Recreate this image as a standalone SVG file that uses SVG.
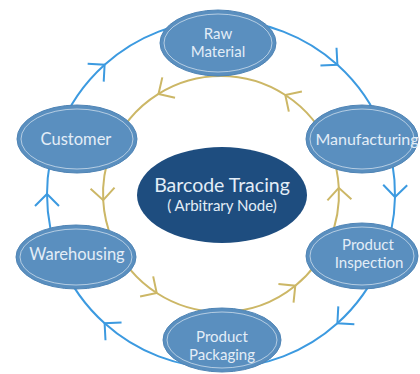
<svg xmlns="http://www.w3.org/2000/svg" width="420" height="374" viewBox="0 0 420 374">
<style>
.node{fill:#5a8fbf;stroke:#4f84b5;stroke-width:1}
.ring{fill:none;stroke:#ffffff;stroke-opacity:0.55;stroke-width:1}
.lbl{font-family:Lato,"Noto Sans","DejaVu Sans",sans-serif;font-size:16.5px;fill:#e3edf7;text-anchor:middle}
.two{font-size:15px}
.blue{fill:none;stroke:#3c9ae0;stroke-width:2;marker-mid:url(#ab)}
.gold{fill:none;stroke:#ccb766;stroke-width:2;marker-mid:url(#ag)}
</style>
<defs>
<marker id="ab" markerUnits="userSpaceOnUse" markerWidth="30" markerHeight="30" viewBox="-15 -15 30 30" refX="0" refY="0" orient="auto" overflow="visible">
<path d="M-12,-12 L0,0 L-12,12" fill="none" stroke="#3c9ae0" stroke-width="2"/>
</marker>
<marker id="ag" markerUnits="userSpaceOnUse" markerWidth="30" markerHeight="30" viewBox="-15 -15 30 30" refX="0" refY="0" orient="auto" overflow="visible">
<path d="M-12,-12 L0,0 L-12,12" fill="none" stroke="#ccb766" stroke-width="2"/>
</marker>
</defs>
<rect width="420" height="374" fill="#ffffff"/>
<g id="connectors">
<path class="blue" d="M221,20 A174,174 0 0 1 337.4,64.7 A174,174 0 0 1 383.4,131.6"/>
<path class="blue" d="M383.4,131.6 A174,174 0 0 1 395,197 A174,174 0 0 1 381.2,262"/>
<path class="blue" d="M381.2,262 A174,174 0 0 1 337.4,323.3 A174,174 0 0 1 221,368"/>
<path class="blue" d="M221,368 A174,174 0 0 1 104.6,323.3 A174,174 0 0 1 60.8,262"/>
<path class="blue" d="M60.8,262 A174,174 0 0 1 47,194 A174,174 0 0 1 58.6,131.6"/>
<path class="blue" d="M58.6,131.6 A174,174 0 0 1 104.6,64.7 A174,174 0 0 1 221,20"/>
<path class="gold" d="M221,76 A118,118 0 0 0 158.5,93.9 A118,118 0 0 0 110.8,151.7"/>
<path class="gold" d="M110.8,151.7 A118,118 0 0 0 103.2,200.2 A118,118 0 0 0 112.4,240.1"/>
<path class="gold" d="M112.4,240.1 A118,118 0 0 0 156.7,293 A118,118 0 0 0 221,312"/>
<path class="gold" d="M221,312 A118,118 0 0 0 295.3,285.7 A118,118 0 0 0 329.6,240.1"/>
<path class="gold" d="M329.6,240.1 A118,118 0 0 0 338.8,187.8 A118,118 0 0 0 331.2,151.7"/>
<path class="gold" d="M331.2,151.7 A118,118 0 0 0 285.3,95 A118,118 0 0 0 221,76"/>
</g>
<g id="center">
<ellipse cx="222" cy="195" rx="85" ry="48" fill="#1e4d7f"/>
<text class="lbl" x="222" y="192" style="font-size:19.5px">Barcode Tracing</text>
<text class="lbl two" x="222" y="211">( Arbitrary Node)</text>
</g>
<g id="raw-material">
<ellipse class="node" cx="218" cy="43" rx="58" ry="33"/>
<ellipse class="ring" cx="218" cy="43" rx="54" ry="29"/>
<text class="lbl two" x="218" y="39">Raw</text>
<text class="lbl two" x="218" y="57">Material</text>
</g>
<g id="manufacturing">
<ellipse class="node" cx="362" cy="139" rx="56" ry="34"/>
<ellipse class="ring" cx="362" cy="139" rx="52" ry="30"/>
<text class="lbl" x="367" y="145" style="font-size:16px">Manufacturing</text>
</g>
<g id="product-inspection">
<ellipse class="node" cx="362" cy="256" rx="56" ry="33"/>
<ellipse class="ring" cx="362" cy="256" rx="52" ry="29"/>
<text class="lbl two" x="368" y="250">Product</text>
<text class="lbl two" x="369" y="268">Inspection</text>
</g>
<g id="product-packaging">
<ellipse class="node" cx="222" cy="340" rx="59" ry="32"/>
<ellipse class="ring" cx="222" cy="340" rx="55" ry="28"/>
<text class="lbl two" x="222" y="342">Product</text>
<text class="lbl two" x="222" y="360">Packaging</text>
</g>
<g id="warehousing">
<ellipse class="node" cx="76" cy="257" rx="60" ry="32"/>
<ellipse class="ring" cx="76" cy="257" rx="56" ry="28"/>
<text class="lbl" x="77" y="260">Warehousing</text>
</g>
<g id="customer">
<ellipse class="node" cx="77" cy="139" rx="60" ry="34"/>
<ellipse class="ring" cx="77" cy="139" rx="56" ry="30"/>
<text class="lbl" x="76" y="145">Customer</text>
</g>
</svg>
